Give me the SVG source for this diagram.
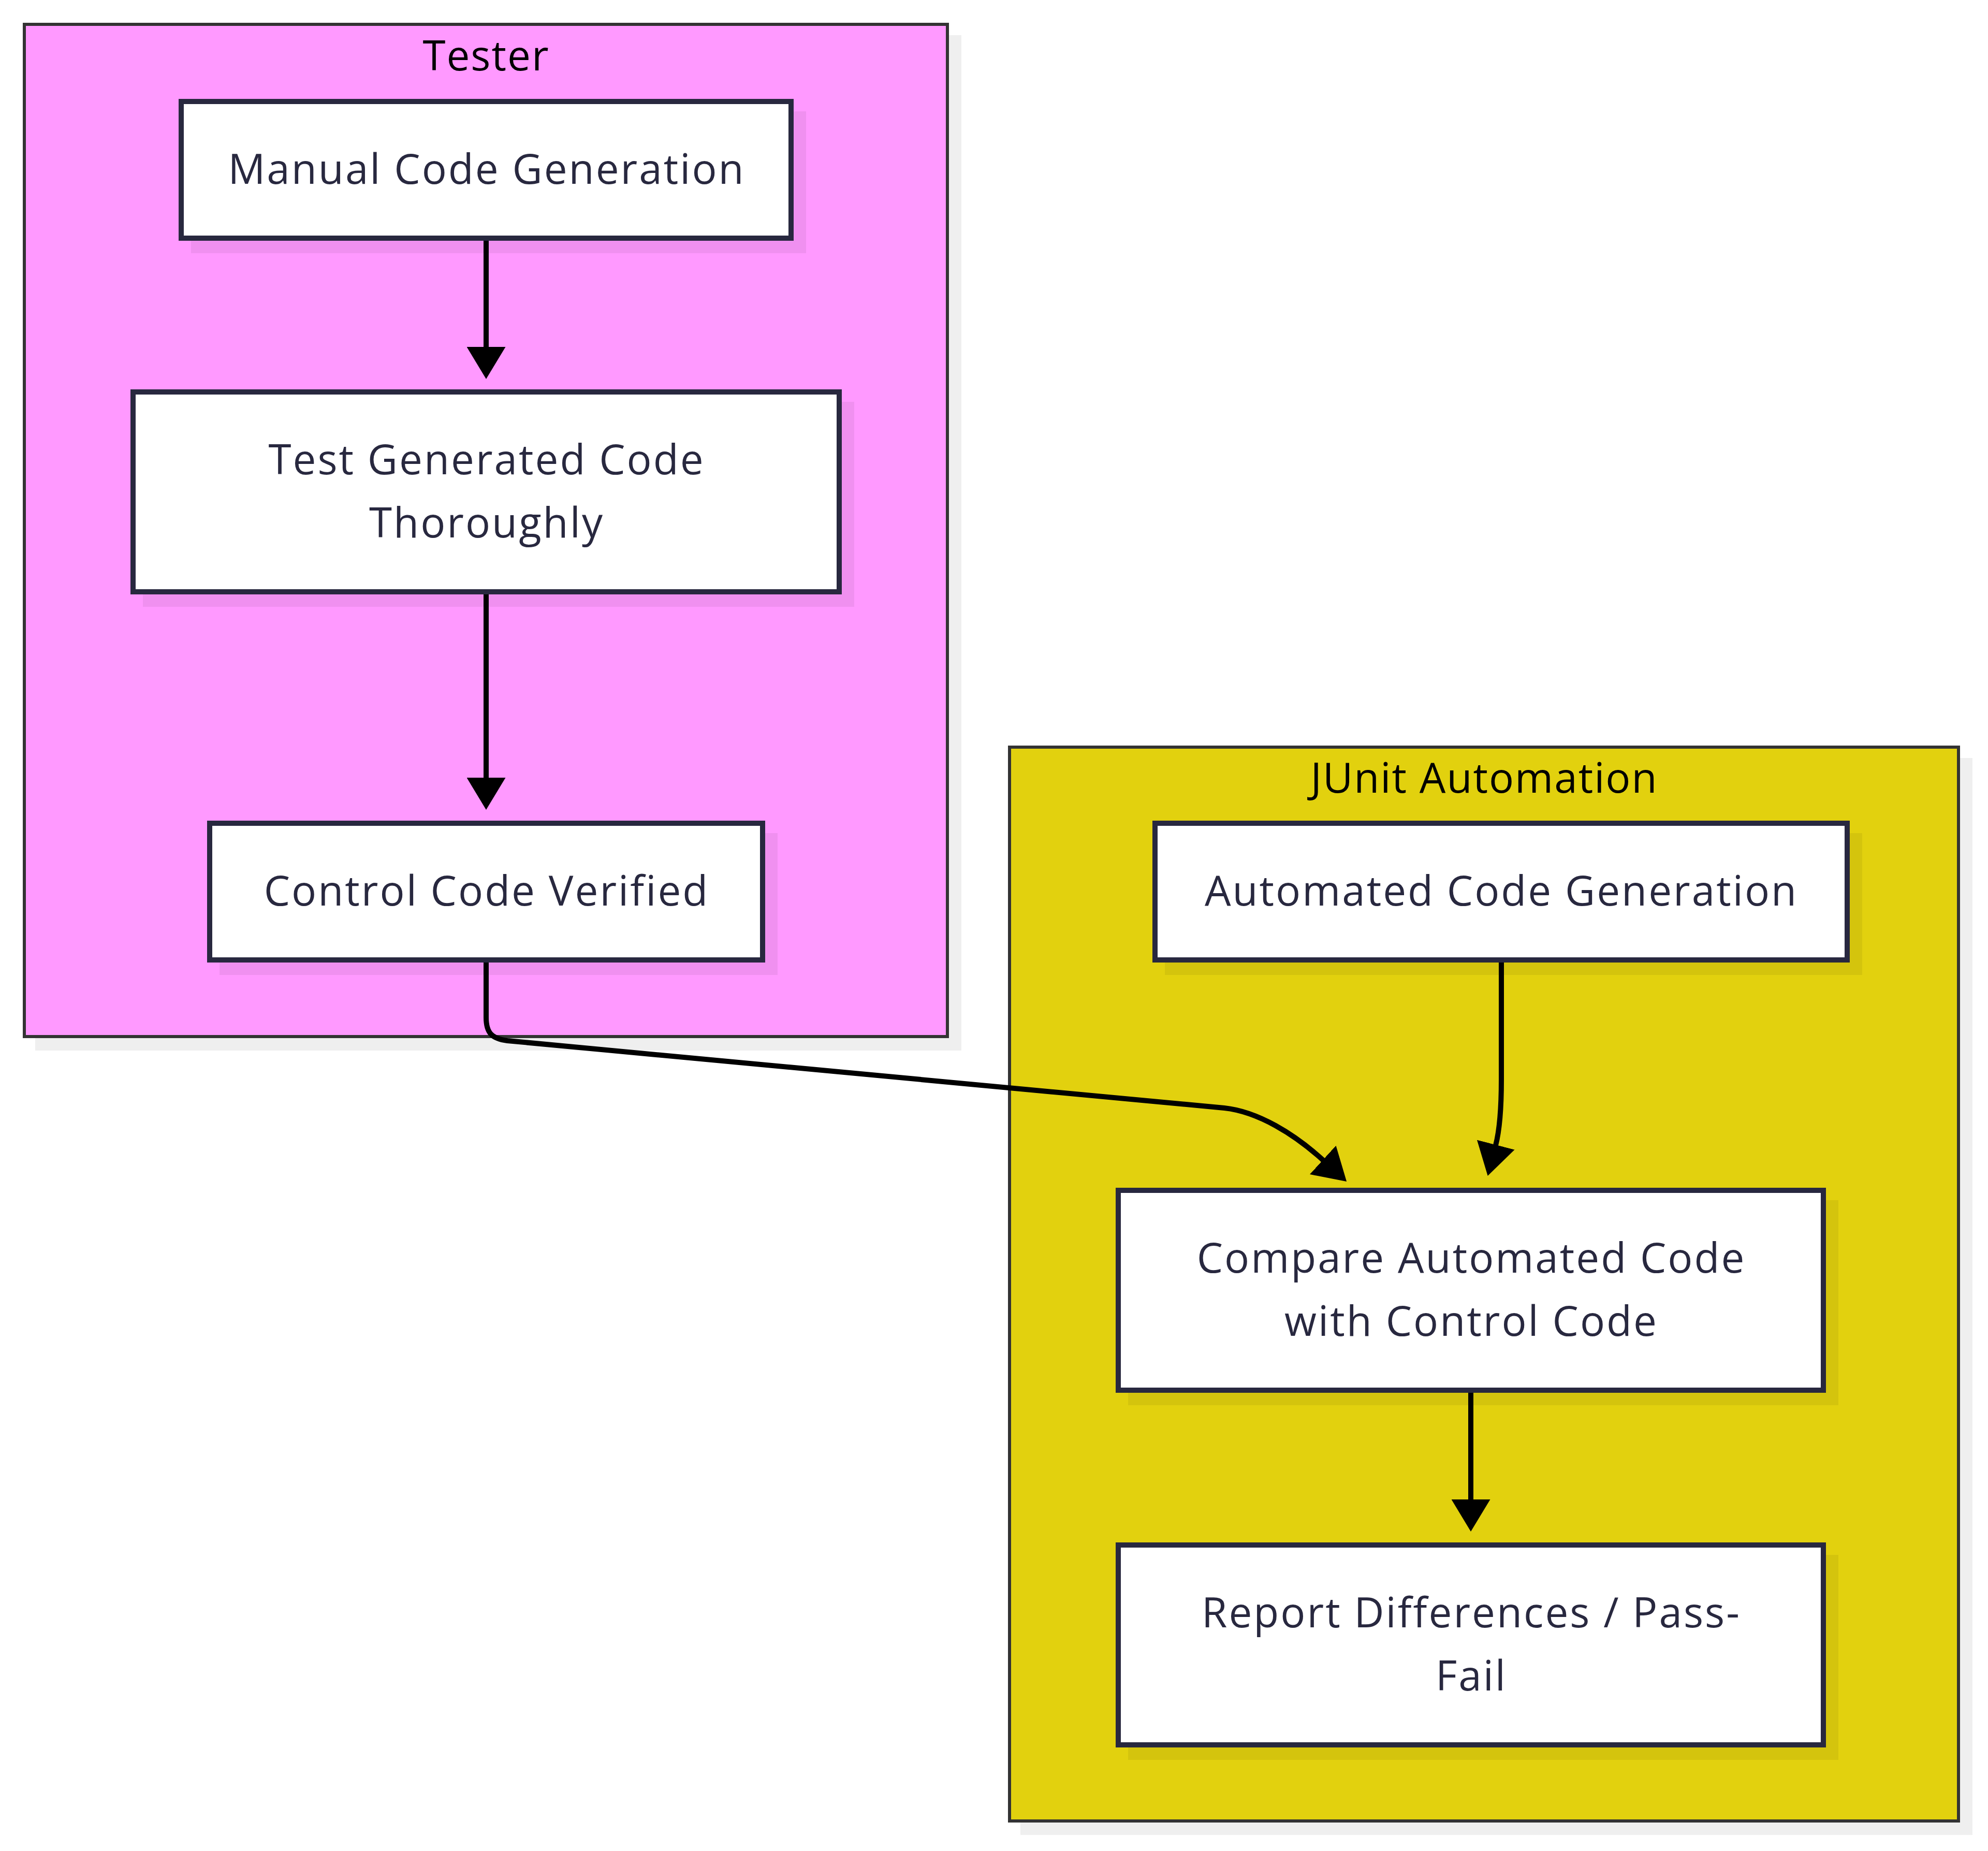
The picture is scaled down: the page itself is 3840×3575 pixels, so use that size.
<svg xmlns="http://www.w3.org/2000/svg" width="3840" height="3575" viewBox="0 0 3840 3575">
  <defs>
    <marker id="arrow" viewBox="0 0 62 75" refX="1" refY="37.5" markerWidth="62" markerHeight="75" markerUnits="userSpaceOnUse" orient="auto">
      <path d="M0,0 L62,37.5 L0,75 z" fill="#000000"/>
    </marker>
  </defs>
  <style>
    .bg { fill: #ffffff; }
    .cshadow { fill: #efefef; }
    .cluster { stroke: #333333; stroke-width: 6; }
    .tester { fill: #ff99ff; }
    .junit { fill: #e2d10e; }
    .ctitle { font-family: "Open Sans", "Liberation Sans", sans-serif; font-size: 80px; fill: #000000; text-anchor: middle; letter-spacing: 2px; }
    .nshadow { fill: #000000; fill-opacity: 0.06; }
    .node { fill: #ffffff; stroke: #28283f; stroke-width: 10; }
    .label { font-family: "Open Sans", "Liberation Sans", sans-serif; font-size: 80px; fill: #28283f; text-anchor: middle; letter-spacing: 3px; }
    .edge { fill: none; stroke: #000000; stroke-width: 10; marker-end: url(#arrow); }
  </style>
  <rect class="bg" x="0" y="0" width="3840" height="3575"/>

  <g id="cluster-tester">
    <rect class="cshadow" x="68" y="68" width="1789" height="1961"/>
    <rect class="cluster tester" x="47" y="47" width="1783" height="1955"/>
    <text class="ctitle" x="939" y="136">Tester</text>
  </g>
  <g id="cluster-junit">
    <rect class="cshadow" x="1971" y="1464" width="1839" height="2080"/>
    <rect class="cluster junit" x="1950" y="1443" width="1833" height="2074"/>
    <text class="ctitle" x="2867" y="1531">JUnit Automation</text>
  </g>

  <g id="node-manual">
    <rect class="nshadow" x="369" y="215" width="1188" height="274"/>
    <rect class="node" x="350" y="196" width="1178" height="264"/>
    <text class="label" x="940" y="355">Manual Code Generation</text>
  </g>
  <g id="node-test">
    <rect class="nshadow" x="276" y="776" width="1374" height="396"/>
    <rect class="node" x="257" y="757" width="1364" height="386"/>
    <text class="label" x="940" y="916">Test Generated Code</text>
    <text class="label" x="940" y="1038">Thoroughly</text>
  </g>
  <g id="node-control">
    <rect class="nshadow" x="424" y="1609" width="1078" height="274"/>
    <rect class="node" x="405" y="1590" width="1068" height="264"/>
    <text class="label" x="940" y="1749">Control Code Verified</text>
  </g>
  <g id="node-automated">
    <rect class="nshadow" x="2250" y="1609" width="1347" height="274"/>
    <rect class="node" x="2231" y="1590" width="1337" height="264"/>
    <text class="label" x="2900" y="1749">Automated Code Generation</text>
  </g>
  <g id="node-compare">
    <rect class="nshadow" x="2179" y="2318" width="1372" height="396"/>
    <rect class="node" x="2160" y="2299" width="1362" height="386"/>
    <text class="label" x="2842" y="2458">Compare Automated Code</text>
    <text class="label" x="2842" y="2580">with Control Code</text>
  </g>
  <g id="node-report">
    <rect class="nshadow" x="2179" y="3003" width="1372" height="396"/>
    <rect class="node" x="2160" y="2984" width="1362" height="386"/>
    <text class="label" x="2842" y="3143">Report Differences / Pass-</text>
    <text class="label" x="2842" y="3265">Fail</text>
  </g>

  <g id="connectors">
    <path class="edge" d="M939,465 L939,671"/>
    <path class="edge" d="M939,1148 L939,1503"/>
    <path class="edge" d="M939,1859 L939,1965 C939,1995 950,2006 980,2010 L2365,2140 C2430,2147 2500,2190 2556,2241"/>
    <path class="edge" d="M2900,1859 L2900,2085 C2900,2150 2896,2185 2889,2212"/>
    <path class="edge" d="M2841,2690 L2841,2897"/>
  </g>
</svg>
